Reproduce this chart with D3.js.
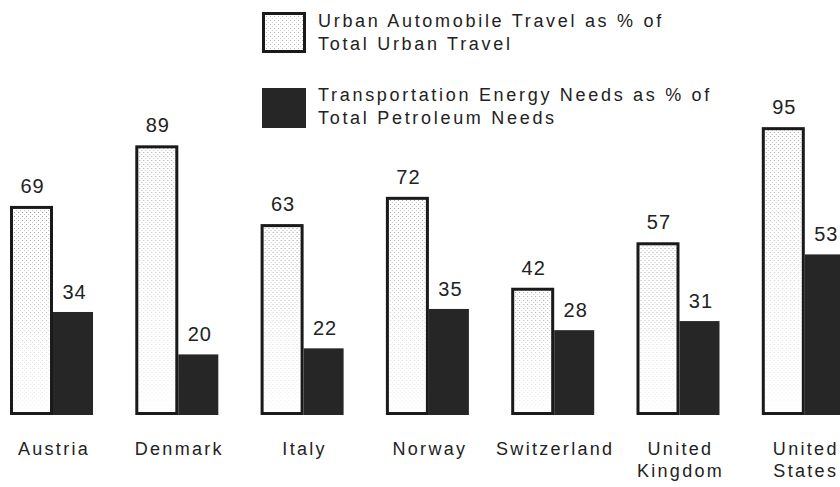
<!DOCTYPE html>
<html>
<head>
<meta charset="utf-8">
<script src="https://cdn.jsdelivr.net/npm/d3@7"></script>
<style>
  body { margin: 0; background: #fff; }
  svg { display: block; font-family: "Liberation Sans", Arial, sans-serif; }
</style>
</head>
<body>
<div id="chart-area"></div>
<script>
// chart size
var width = 840,
    height = 487;

// data
let countries = ["Austria", "Denmark", "Italy", "Norway", "Switzerland", "United Kingdom", "United States"];
let labelLines = [["Austria"], ["Denmark"], ["Italy"], ["Norway"], ["Switzerland"], ["United", "Kingdom"], ["United", "States"]];
let autoTravel = [69, 89, 63, 72, 42, 57, 95];
let energyNeeds = [34, 20, 22, 35, 28, 31, 53];
let seriesKeys = ["auto", "energy"];
let legendLabels = [
  ["Urban Automobile Travel as % of", "Total Urban Travel"],
  ["Transportation Energy Needs as % of", "Total Petroleum Needs"]
];

let rows = countries.map((c, i) => ({ country: c, auto: autoTravel[i], energy: energyNeeds[i] }));

let svg = d3.select("#chart-area").append("svg")
  .attr("width", width)
  .attr("height", height);

// stipple pattern + fading mask for the light bars
let defs = svg.append("defs");
let pat = defs.append("pattern")
  .attr("id", "stipple")
  .attr("width", 4).attr("height", 4)
  .attr("patternUnits", "userSpaceOnUse");
pat.append("rect").attr("width", 4).attr("height", 4).attr("fill", "#fff");
pat.append("rect").attr("x", 0).attr("y", 0).attr("width", 1).attr("height", 1).attr("fill", "#8a8a8a");
pat.append("rect").attr("x", 2).attr("y", 2).attr("width", 1).attr("height", 1).attr("fill", "#b0b0b0");

let grad = defs.append("linearGradient")
  .attr("id", "fade").attr("x1", 0).attr("y1", 0).attr("x2", 0).attr("y2", 1);
grad.append("stop").attr("offset", "0%").attr("stop-color", "#fff").attr("stop-opacity", 0.85);
grad.append("stop").attr("offset", "55%").attr("stop-color", "#fff").attr("stop-opacity", 0.4);
grad.append("stop").attr("offset", "100%").attr("stop-color", "#fff").attr("stop-opacity", 0.08);
defs.append("mask").attr("id", "fadeMask").attr("maskContentUnits", "objectBoundingBox")
  .append("rect").attr("width", 1).attr("height", 1).attr("fill", "url(#fade)");

// scales
let x0 = d3.scaleBand()
  .domain(countries)
  .range([10, 847.8])
  .paddingInner(0.3136)
  .paddingOuter(0);

let x1 = d3.scaleBand()
  .domain(seriesKeys)
  .range([0, x0.bandwidth()])
  .padding(0);

let y = d3.scaleLinear()
  .domain([0, 100])
  .range([415, 112]);

let groups = svg.selectAll("g.group")
  .data(rows)
  .enter()
  .append("g")
  .attr("class", "group")
  .attr("transform", d => "translate(" + x0(d.country) + ",0)");

// dark bars first so the outlined light bar sits on top
groups.append("rect")
  .attr("x", x1("energy") - 1)
  .attr("y", d => y(d.energy))
  .attr("width", x1.bandwidth() - 2)
  .attr("height", d => y(0) - y(d.energy))
  .attr("fill", "#262626");

groups.append("rect")
  .attr("x", x1("auto"))
  .attr("y", d => y(d.auto))
  .attr("width", x1.bandwidth())
  .attr("height", d => y(0) - y(d.auto))
  .attr("fill", "#fff");

groups.append("rect")
  .attr("x", x1("auto"))
  .attr("y", d => y(d.auto))
  .attr("width", x1.bandwidth())
  .attr("height", d => y(0) - y(d.auto))
  .attr("fill", "url(#stipple)")
  .attr("mask", "url(#fadeMask)");

groups.append("rect")
  .attr("x", x1("auto") + 1.5)
  .attr("y", d => y(d.auto) + 1.5)
  .attr("width", x1.bandwidth() - 3)
  .attr("height", d => y(0) - y(d.auto) - 3)
  .attr("fill", "none")
  .attr("stroke", "#1a1a1a")
  .attr("stroke-width", 3);

// value labels
groups.append("text")
  .attr("x", x1("auto") + x1.bandwidth() / 2 + 1)
  .attr("y", d => y(d.auto) - 13)
  .attr("text-anchor", "middle")
  .attr("font-size", 20)
  .attr("letter-spacing", 1)
  .attr("fill", "#222")
  .text(d => d.auto);

groups.append("text")
  .attr("x", x1("energy") + x1.bandwidth() / 2)
  .attr("y", d => y(d.energy) - 13)
  .attr("text-anchor", "middle")
  .attr("font-size", 20)
  .attr("letter-spacing", 1)
  .attr("fill", "#222")
  .text(d => d.energy);

// country labels
groups.append("text")
  .attr("x", x0.bandwidth() / 2)
  .attr("y", 455)
  .attr("text-anchor", "middle")
  .attr("font-size", 18)
  .attr("letter-spacing", 2.3)
  .attr("fill", "#222")
  .selectAll("tspan")
  .data((d, i) => labelLines[i])
  .enter()
  .append("tspan")
  .attr("x", x0.bandwidth() / 2 + 1)
  .attr("dy", (d, i) => i === 0 ? 0 : 22)
  .text(d => d);

// legend
let legend = svg.selectAll("g.legend")
  .data(seriesKeys)
  .enter()
  .append("g")
  .attr("class", "legend")
  .attr("transform", (d, i) => "translate(262," + (12 + i * 74) + ")");

legend.filter(d => d === "auto").append("rect")
  .attr("width", 44).attr("height", 41).attr("fill", "#fff");
legend.filter(d => d === "auto").append("rect")
  .attr("width", 44).attr("height", 41)
  .attr("fill", "url(#stipple)").attr("opacity", 0.6);
legend.filter(d => d === "auto").append("rect")
  .attr("x", 1.5).attr("y", 1.5)
  .attr("width", 41).attr("height", 38)
  .attr("fill", "none").attr("stroke", "#1a1a1a").attr("stroke-width", 3);
legend.filter(d => d === "energy").append("rect")
  .attr("y", 2)
  .attr("width", 44).attr("height", 40)
  .attr("fill", "#262626");

legend.append("text")
  .attr("font-size", 18)
  .attr("letter-spacing", 2.7)
  .attr("fill", "#222")
  .selectAll("tspan")
  .data((d, i) => legendLabels[i])
  .enter()
  .append("tspan")
  .attr("x", 56)
  .attr("y", (d, i) => 15 + i * 23)
  .text(d => d);
</script>
</body>
</html>
